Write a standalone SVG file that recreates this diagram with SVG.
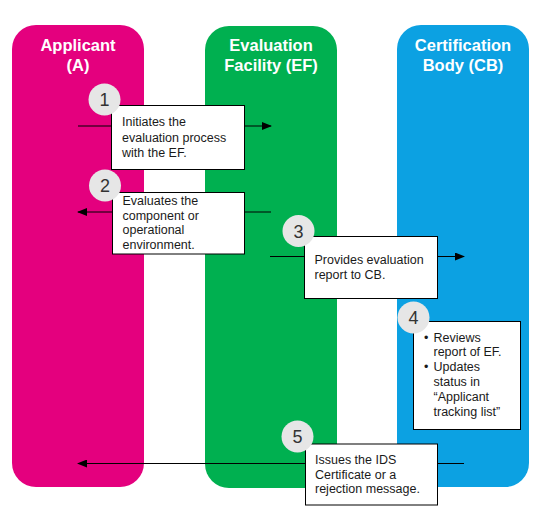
<svg xmlns="http://www.w3.org/2000/svg" width="538" height="507" viewBox="0 0 538 507">
<defs>
<marker id="ah" markerWidth="10" markerHeight="8" refX="9" refY="4" orient="auto" markerUnits="userSpaceOnUse"><path d="M0,0 L10,4 L0,8 Z" fill="#000"/></marker>
<style>
.lane-title{font-family:"Liberation Sans",Arial,sans-serif;font-weight:bold;font-size:16.5px;fill:#fff;text-anchor:middle}
.box{fill:#fff;stroke:#000;stroke-width:1}
.t{font-family:"Liberation Sans",Arial,sans-serif;font-size:12.5px;fill:#1a1a1a}
.num{fill:#e6e6e6}
.nt{font-family:"Liberation Sans",Arial,sans-serif;font-size:18px;fill:#333;text-anchor:middle}
.conn{stroke:#000;stroke-width:1.2;fill:none;marker-end:url(#ah)}
</style>
</defs>
<rect width="538" height="507" fill="#fff"/>
<g id="lane-applicant">
<rect x="12" y="25" width="132" height="462" rx="24" fill="#e4007e"/>
<text class="lane-title" x="78" y="51">Applicant</text>
<text class="lane-title" x="78" y="71">(A)</text>
</g>
<g id="lane-ef">
<rect x="205" y="26" width="132" height="462" rx="24" fill="#00b050"/>
<text class="lane-title" x="271" y="51">Evaluation</text>
<text class="lane-title" x="271" y="71">Facility (EF)</text>
</g>
<g id="lane-cb">
<rect x="397" y="25" width="132" height="462" rx="24" fill="#0ca1e2"/>
<text class="lane-title" x="463" y="51">Certification</text>
<text class="lane-title" x="463" y="71">Body (CB)</text>
</g>
<g id="connectors">
<line class="conn" x1="78" y1="126" x2="271" y2="126"/>
<line class="conn" x1="271" y1="212" x2="78" y2="212"/>
<line class="conn" x1="270" y1="256.5" x2="464" y2="256.5"/>
<line class="conn" x1="464" y1="463.5" x2="78" y2="463.5"/>
</g>
<g id="step1">
<rect class="box" x="111.5" y="105.5" width="133" height="64"/>
<text class="t" x="122" y="126">Initiates the</text>
<text class="t" x="122" y="141.5">evaluation process</text>
<text class="t" x="122" y="157">with the EF.</text>
<circle class="num" cx="104.5" cy="99.5" r="16"/>
<text class="nt" x="104.5" y="106">1</text>
</g>
<g id="step2">
<rect class="box" x="112.5" y="192.5" width="132" height="61.5"/>
<text class="t" x="122.5" y="205">Evaluates the</text>
<text class="t" x="122.5" y="219.5">component or</text>
<text class="t" x="122.5" y="234">operational</text>
<text class="t" x="122.5" y="248.5">environment.</text>
<circle class="num" cx="105" cy="185.5" r="16"/>
<text class="nt" x="105" y="192">2</text>
</g>
<g id="step3">
<rect class="box" x="304.5" y="236.5" width="133" height="62"/>
<text class="t" x="314.5" y="263.5">Provides evaluation</text>
<text class="t" x="314.5" y="278.5">report to CB.</text>
<circle class="num" cx="298.5" cy="231" r="16"/>
<text class="nt" x="298.5" y="237.5">3</text>
</g>
<g id="step4">
<rect class="box" x="413.5" y="321.5" width="107" height="108"/>
<text class="t" x="424" y="341.5">•</text>
<text class="t" x="433.5" y="341.5">Reviews</text>
<text class="t" x="433.5" y="356">report of EF.</text>
<text class="t" x="424" y="371">•</text>
<text class="t" x="433.5" y="371">Updates</text>
<text class="t" x="433.5" y="385.5">status in</text>
<text class="t" x="433.5" y="400.5">“Applicant</text>
<text class="t" x="433.5" y="415.5">tracking list”</text>
<circle class="num" cx="413.5" cy="317.5" r="16"/>
<text class="nt" x="413.5" y="324">4</text>
</g>
<g id="step5">
<rect class="box" x="305.5" y="444" width="132" height="61"/>
<text class="t" x="315" y="464">Issues the IDS</text>
<text class="t" x="315" y="478.5">Certificate or a</text>
<text class="t" x="315" y="493">rejection message.</text>
<circle class="num" cx="297.5" cy="436.5" r="16"/>
<text class="nt" x="297.5" y="443">5</text>
</g>
</svg>
